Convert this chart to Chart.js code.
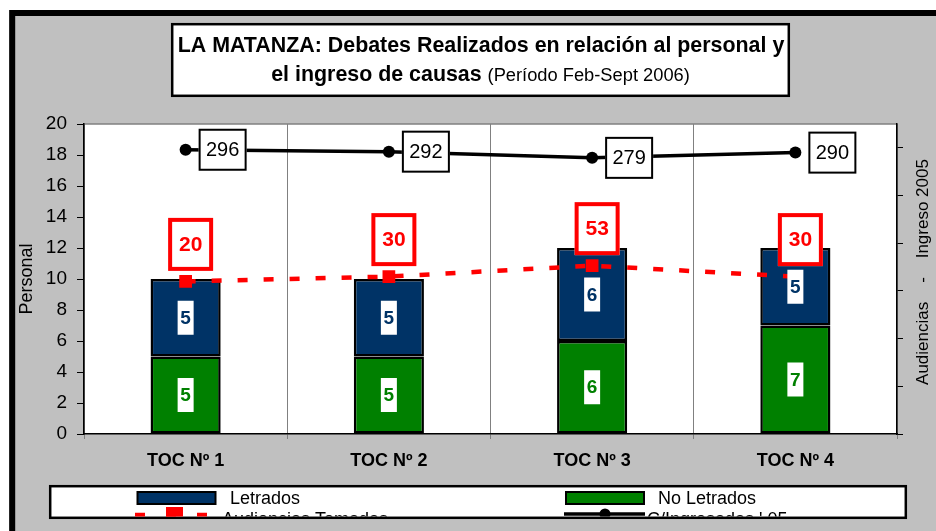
<!DOCTYPE html>
<html>
<head>
<meta charset="utf-8">
<script src="https://cdn.jsdelivr.net/npm/chart.js@4.4.0/dist/chart.umd.min.js"></script>
<style>
  html, body { margin: 0; padding: 0; background: #fff; }
  canvas { display: block; }
</style>
</head>
<body>
<canvas id="chart" width="936" height="531"></canvas>
<script>
// data
const categories = ['TOC Nº 1', 'TOC Nº 2', 'TOC Nº 3', 'TOC Nº 4'];
const letrados = [5, 5, 6, 5];
const noLetrados = [5, 5, 6, 7];
const audiencias = [20, 30, 53, 30];
const ingresadas = [296, 292, 279, 290];

const personalTicks = [0, 2, 4, 6, 8, 10, 12, 14, 16, 18, 20];
const ingresoTicks = [-300, -200, -100, 0, 100, 200, 300];

const titleLine1 = 'LA MATANZA: Debates Realizados en relación al personal y';
const titleLine2 = 'el ingreso de causas';
const titleNote = '(Período Feb-Sept 2006)';
const rightTitle = 'Audiencias    -    Ingreso 2005';

const FONT = '"Liberation Sans", Arial, sans-serif';
const NAVY = '#003366';
const GREEN = '#008000';
const RED = '#ff0000';

const framePlugin = {
    id: 'frame',
    beforeDraw(chart) {
        const {ctx, chartArea: a} = chart;
        ctx.save();
        ctx.fillStyle = '#fff';
        ctx.fillRect(0, 0, chart.width, chart.height);
        ctx.fillStyle = '#c0c0c0';
        ctx.fillRect(9, 10, chart.width, chart.height);
        ctx.strokeStyle = '#000';
        ctx.lineWidth = 6;
        ctx.strokeRect(12.2, 13, chart.width + 20, chart.height + 20);
        // plot area
        ctx.fillStyle = '#fff';
        ctx.fillRect(a.left, a.top, a.right - a.left, a.bottom - a.top);
        ctx.strokeStyle = '#808080';
        ctx.lineWidth = 1.5;
        ctx.beginPath();
        ctx.moveTo(a.left, a.top);
        ctx.lineTo(a.right, a.top);
        ctx.stroke();
        ctx.restore();
    }
};

const valueBoxPlugin = {
    id: 'valueBoxes',
    afterDatasetsDraw(chart) {
        const ctx = chart.ctx;
        ctx.save();
        ctx.textAlign = 'center';
        ctx.textBaseline = 'middle';
        chart.data.datasets.forEach((ds, i) => {
            const meta = chart.getDatasetMeta(i);
            meta.data.forEach((el, j) => {
                const v = ds.data[j];
                if (ds.boxStyle === 'bar') {
                    const cy = (el.y + el.base) / 2;
                    ctx.fillStyle = '#fff';
                    ctx.fillRect(el.x - 8, cy - 17, 16, 34);
                    ctx.fillStyle = ds.textColor;
                    ctx.font = 'bold 19px ' + FONT;
                    ctx.fillText(String(v), el.x, cy + 1);
                } else if (ds.boxStyle === 'red') {
                    const cx = el.x + 5, cy = el.y - 37;
                    ctx.fillStyle = '#fff';
                    ctx.fillRect(cx - 22.5, cy - 26.5, 45, 53);
                    ctx.strokeStyle = RED;
                    ctx.lineWidth = 4;
                    ctx.strokeRect(cx - 20.5, cy - 24.5, 41, 49);
                    ctx.fillStyle = RED;
                    ctx.font = 'bold 21px ' + FONT;
                    ctx.fillText(String(v), cx, cy + 1);
                } else if (ds.boxStyle === 'black') {
                    const left = el.x + 13, top = el.y - 21;
                    ctx.fillStyle = '#fff';
                    ctx.fillRect(left, top, 48, 42);
                    ctx.strokeStyle = '#000';
                    ctx.lineWidth = 2;
                    ctx.strokeRect(left + 1, top + 1, 46, 40);
                    ctx.fillStyle = '#000';
                    ctx.font = '20px ' + FONT;
                    ctx.fillText(String(v), left + 24, el.y + 1);
                }
            });
        });
        ctx.restore();
    }
};

const decorPlugin = {
    id: 'decor',
    afterDraw(chart) {
        const ctx = chart.ctx;
        const ds = chart.data.datasets;
        ctx.save();

        // title box
        ctx.fillStyle = '#fff';
        ctx.fillRect(171, 23, 619, 74);
        ctx.strokeStyle = '#000';
        ctx.lineWidth = 2.5;
        ctx.strokeRect(172.2, 24.2, 616.6, 71.6);
        ctx.fillStyle = '#000';
        ctx.textBaseline = 'alphabetic';
        ctx.textAlign = 'center';
        ctx.font = 'bold 21.4px ' + FONT;
        ctx.fillText(titleLine1, 481, 52);
        ctx.textAlign = 'left';
        const boldW = ctx.measureText(titleLine2 + ' ').width;
        ctx.font = '18.3px ' + FONT;
        const noteW = ctx.measureText(titleNote).width;
        const x0 = 480.5 - (boldW + noteW) / 2;
        ctx.font = 'bold 21.4px ' + FONT;
        ctx.fillText(titleLine2, x0, 81);
        ctx.font = '18.3px ' + FONT;
        ctx.fillText(titleNote, x0 + boldW, 81);

        // right axis title, reads bottom to top
        ctx.save();
        ctx.translate(923, 272);
        ctx.rotate(-Math.PI / 2);
        ctx.textAlign = 'center';
        ctx.textBaseline = 'middle';
        ctx.font = '17px ' + FONT;
        ctx.fillText(rightTitle, 0, 0);
        ctx.restore();

        // legend box (rows clipped like the original)
        ctx.fillStyle = '#fff';
        ctx.fillRect(49, 485, 858, 34);
        ctx.strokeStyle = '#000';
        ctx.lineWidth = 2.5;
        ctx.strokeRect(50.2, 486.2, 855.6, 31.6);
        ctx.save();
        ctx.beginPath();
        ctx.rect(51.5, 487.5, 853, 29);
        ctx.clip();
        ctx.font = '18px ' + FONT;
        ctx.textAlign = 'left';
        ctx.textBaseline = 'middle';
        const byStyle = name => ds.find(d => d.legendKey === name);
        // Letrados
        const dl = byStyle('letrados');
        ctx.fillStyle = dl.backgroundColor;
        ctx.fillRect(137.5, 492, 78, 12);
        ctx.lineWidth = 2;
        ctx.strokeStyle = '#000';
        ctx.strokeRect(137.5, 492, 78, 12);
        ctx.fillStyle = '#000';
        ctx.fillText(dl.label, 230, 499);
        // No Letrados
        const dn = byStyle('noLetrados');
        ctx.fillStyle = dn.backgroundColor;
        ctx.fillRect(566, 492, 78, 12);
        ctx.strokeRect(566, 492, 78, 12);
        ctx.fillStyle = '#000';
        ctx.fillText(dn.label, 658, 499);
        // Audiencias
        const da = byStyle('audiencias');
        ctx.strokeStyle = RED;
        ctx.lineWidth = 4.5;
        ctx.setLineDash([10, 21]);
        ctx.beginPath();
        ctx.moveTo(135, 515);
        ctx.lineTo(208, 515);
        ctx.stroke();
        ctx.setLineDash([]);
        ctx.fillStyle = RED;
        ctx.fillRect(166, 507, 17, 16);
        ctx.fillStyle = '#000';
        ctx.fillText(da.label, 222, 520);
        // Ingresadas
        const di = byStyle('ingresadas');
        ctx.strokeStyle = '#000';
        ctx.lineWidth = 3.5;
        ctx.beginPath();
        ctx.moveTo(564, 514);
        ctx.lineTo(645, 514);
        ctx.stroke();
        ctx.beginPath();
        ctx.arc(605, 514, 5.5, 0, Math.PI * 2);
        ctx.fill();
        ctx.fillText(di.label, 647, 520);
        ctx.restore();

        ctx.restore();
    }
};

new Chart(document.getElementById('chart'), {
    data: {
        labels: categories,
        datasets: [
            {
                type: 'line',
                label: "C/Ingresadas ' 05",
                legendKey: 'ingresadas',
                boxStyle: 'black',
                data: ingresadas,
                yAxisID: 'y1',
                order: 0,
                borderColor: '#000',
                backgroundColor: '#000',
                borderWidth: 3.5,
                pointRadius: 6,
                pointBackgroundColor: '#000',
                pointBorderWidth: 0,
                tension: 0
            },
            {
                type: 'line',
                label: 'Audiencias Tomadas',
                legendKey: 'audiencias',
                boxStyle: 'red',
                data: audiencias,
                yAxisID: 'y1',
                order: 1,
                borderColor: RED,
                backgroundColor: RED,
                borderWidth: 4.5,
                borderDash: [10, 16],
                pointStyle: 'rect',
                pointRadius: 9,
                pointBackgroundColor: RED,
                pointBorderWidth: 0,
                tension: 0
            },
            {
                type: 'bar',
                label: 'No Letrados',
                legendKey: 'noLetrados',
                boxStyle: 'bar',
                textColor: GREEN,
                data: noLetrados,
                yAxisID: 'y',
                order: 2,
                backgroundColor: GREEN,
                borderColor: '#000',
                borderWidth: 2.5,
                borderSkipped: false,
                barPercentage: 0.345,
                categoryPercentage: 1
            },
            {
                type: 'bar',
                label: 'Letrados',
                legendKey: 'letrados',
                boxStyle: 'bar',
                textColor: NAVY,
                data: letrados,
                yAxisID: 'y',
                order: 2,
                backgroundColor: NAVY,
                borderColor: '#000',
                borderWidth: 2.5,
                borderSkipped: false,
                barPercentage: 0.345,
                categoryPercentage: 1
            }
        ]
    },
    options: {
        responsive: false,
        animation: false,
        devicePixelRatio: 1,
        layout: {
            padding: {top: 124, left: 0, right: 0, bottom: 0}
        },
        plugins: {
            legend: {display: false},
            title: {display: false},
            tooltip: {enabled: false}
        },
        scales: {
            x: {
                stacked: true,
                grid: {
                    offset: true,
                    color: '#808080',
                    lineWidth: 1,
                    tickLength: 5,
                    drawOnChartArea: true
                },
                border: {color: '#000', width: 1.5},
                ticks: {
                    color: '#000',
                    font: {family: FONT, size: 18, weight: 'bold'},
                    padding: 11,
                    maxRotation: 0
                },
                afterFit(scale) {
                    scale.height = 97;
                }
            },
            y: {
                position: 'left',
                stacked: true,
                min: 0,
                max: 20,
                afterBuildTicks(scale) {
                    scale.ticks = personalTicks.map(v => ({value: v}));
                },
                grid: {
                    drawOnChartArea: false,
                    color: '#000',
                    tickLength: 7
                },
                border: {color: '#000', width: 1.5},
                ticks: {
                    color: '#000',
                    font: {family: FONT, size: 19},
                    padding: 10
                },
                title: {
                    display: true,
                    text: 'Personal',
                    color: '#000',
                    font: {family: FONT, size: 18},
                    padding: {top: 16, bottom: 0}
                },
                afterFit(scale) {
                    scale.width = 84;
                }
            },
            y1: {
                position: 'right',
                min: -300,
                max: 350,
                afterBuildTicks(scale) {
                    scale.ticks = ingresoTicks.map(v => ({value: v}));
                },
                grid: {
                    drawOnChartArea: false,
                    color: '#000',
                    tickLength: 6
                },
                border: {color: '#000', width: 1.5},
                ticks: {display: false},
                afterFit(scale) {
                    scale.width = 39;
                }
            }
        }
    },
    plugins: [framePlugin, valueBoxPlugin, decorPlugin]
});
</script>
</body>
</html>
